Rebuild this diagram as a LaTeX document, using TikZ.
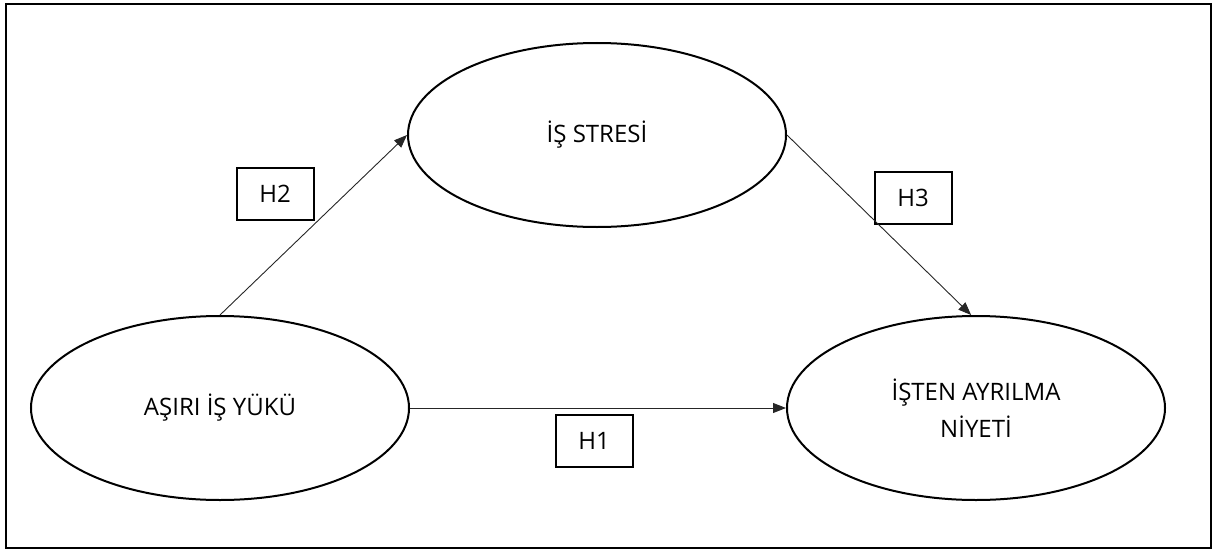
\documentclass[tikz,border=0pt]{standalone}
\usepackage{fontspec}
\setmainfont{Open Sans}
\usetikzlibrary{shapes.geometric,arrows.meta}
\begin{document}
\begin{tikzpicture}[x=1pt,y=-1pt,
  construct/.style={draw,ellipse,line width=2pt,inner sep=0pt,
    minimum width=378pt,minimum height=184pt,align=center,
    font=\fontsize{24}{37}\selectfont},
  hyp/.style={draw,rectangle,line width=2pt,inner sep=0pt,
    minimum width=77pt,minimum height=52pt,
    font=\fontsize{24}{28}\selectfont},
  path/.style={line width=0.9pt,draw=black!85,
    -{Triangle[length=13pt,width=10pt]}}]
  \useasboundingbox (0,0) rectangle (1215,551);
  \draw[line width=2pt] (6,4) rectangle (1211,548);
  \node[construct] (stres) at (597,135) {İŞ STRESİ};
  \node[construct] (yuk) at (220,408) {AŞIRI İŞ YÜKÜ};
  \node[construct] (niyet) at (976,408) {İŞTEN AYRILMA\\NİYETİ};
  \node[hyp] (h2) at (275,194) {H2};
  \node[hyp] (h3) at (913,198) {H3};
  \node[hyp] (h1) at (594,441) {H1};
  \draw[path] (yuk.north) -- (stres.west);
  \draw[path] (stres.east) -- (niyet.93);
  \draw[path] (yuk.east) -- (niyet.west);
\end{tikzpicture}
\end{document}
